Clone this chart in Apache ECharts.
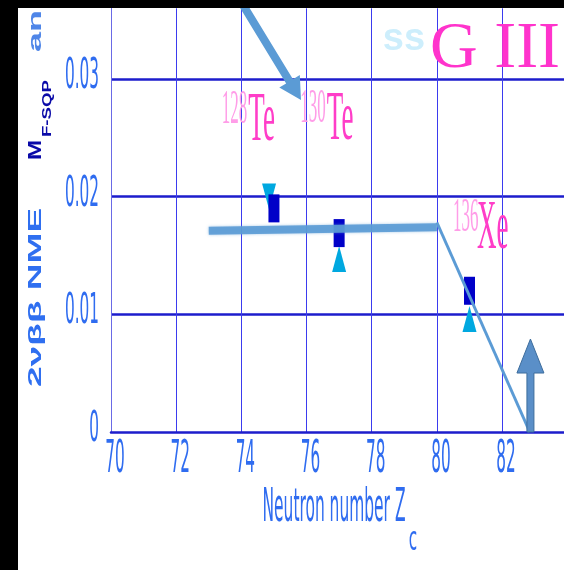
<!DOCTYPE html>
<html>
<head>
<meta charset="utf-8">
<script src="https://cdn.jsdelivr.net/npm/echarts@6/dist/echarts.min.js"></script>
<style>
html, body { margin: 0; padding: 0; background: #fff; }
#chart { width: 564px; height: 570px; }
</style>
</head>
<body>
<div id="chart"></div>
<script>
// Axis ticks
const xTicks = [70, 72, 74, 76, 78, 80, 82];
const xTickLabels = ['70', '72', '74', '76', '78', '80', '82'];
const yTicks = [0, 0.01, 0.02, 0.03];
const yTickLabels = ['0', '0.01', '0.02', '0.03'];

// NME values per nucleus (dark squares)
const nmeMeasured = [[75, 0.0190], [77, 0.0169], [81, 0.0120]];
// Calculated values (triangles)
const nmeCalcDown = [[74.85, 0.0200]];
const nmeCalcUp = [[77, 0.0147], [81, 0.0096]];
// Plateau trend and the drop toward the shell closure
const plateauLine = [[73, 0.0171], [80, 0.0174]];
const dropLine = [[80, 0.0178], [82.85, 0]];
// Arrows as [xTail, yTail, xTip, yTip]
const pointerArrow = [[73.96, 0.0367, 75.83, 0.0282]];
const shellArrow = [[82.87, 0, 82.87, 0.0079]];
// Nucleus labels (mass number, element, anchor in data units)
const nucleusMass = ['128', '130', '136'];
const nucleusSym = ['Te', 'Te', 'Xe'];
const nucleusAt = [[74.62, 0.0264], [77.03, 0.0265], [81.71, 0.0172]];

const NARROW = '"Liberation Sans Narrow", "DejaVu Sans Condensed", "Liberation Sans", sans-serif';
const SERIF = '"Liberation Serif", "DejaVu Serif", serif';
const SANS = '"Liberation Sans", Arial, sans-serif';

function arrowRenderer(o) {
  return function (params, api) {
    const p1 = api.coord([api.value(0), api.value(1)]);
    const p2 = api.coord([api.value(2), api.value(3)]);
    const dx = p2[0] - p1[0], dy = p2[1] - p1[1];
    const len = Math.hypot(dx, dy);
    const ux = dx / len, uy = dy / len;
    const nx = -uy, ny = ux;
    const w = o.shaft / 2, h = o.headW / 2;
    const bx = p2[0] - ux * o.headL, by = p2[1] - uy * o.headL;
    const pts = [
      [p1[0] + nx * w, p1[1] + ny * w],
      [bx + nx * w, by + ny * w],
      [bx + nx * h, by + ny * h],
      [p2[0], p2[1]],
      [bx - nx * h, by - ny * h],
      [bx - nx * w, by - ny * w],
      [p1[0] - nx * w, p1[1] - ny * w]
    ];
    return {
      type: 'polygon',
      shape: { points: pts },
      style: { fill: o.fill, stroke: o.stroke || null, lineWidth: o.lw || 0 }
    };
  };
}

const chart = echarts.init(document.getElementById('chart'), null, { renderer: 'canvas' });

const option = {
  backgroundColor: '#ffffff',
  animation: false,
  grid: { left: 111, right: 0, top: 8.3, bottom: 138 },
  xAxis: {
    type: 'value', min: 70, max: 83.9, interval: 2,
    axisLabel: { show: false },
    axisTick: { show: false },
    axisLine: { show: true, lineStyle: { color: '#1d1dcc', width: 2.5 } },
    splitLine: { show: true, showMinLine: false, showMaxLine: false, lineStyle: { color: '#3b3bef', width: 1 } }
  },
  yAxis: {
    type: 'value', min: 0, max: 0.036, interval: 0.01,
    axisLabel: { show: false },
    axisTick: { show: false },
    axisLine: { show: true, lineStyle: { color: '#6a6ae6', width: 1 } },
    splitLine: { show: true, showMinLine: false, showMaxLine: false, lineStyle: { color: '#1d1dcc', width: 2.5 } }
  },
  series: [
    {
      type: 'scatter', data: nmeCalcDown, z: 2,
      symbol: 'path://M0,0L2,0L1,2Z', symbolSize: [14, 26],
      itemStyle: { color: '#00a8e0', opacity: 1 }
    },
    {
      type: 'scatter', data: nmeCalcUp, z: 2,
      symbol: 'triangle', symbolSize: [14, 26],
      itemStyle: { color: '#00a8e0', opacity: 1 }
    },
    {
      type: 'scatter', data: nmeMeasured, z: 3,
      symbol: 'rect', symbolSize: [11, 28],
      itemStyle: { color: '#0000c8', opacity: 1 }
    },
    {
      type: 'line', data: plateauLine, z: 4, symbol: 'none',
      lineStyle: { color: '#5b9bd5', width: 8, opacity: 0.9, shadowBlur: 3, shadowColor: 'rgba(91,155,213,0.6)' }
    },
    {
      type: 'line', data: dropLine, z: 4, symbol: 'none',
      lineStyle: { color: '#5b9bd5', width: 3 }
    },
    {
      type: 'custom', data: pointerArrow, z: 5, clip: false,
      encode: { x: [0, 2], y: [1, 3] },
      renderItem: arrowRenderer({ shaft: 8, headW: 24, headL: 22, fill: '#5b9bd5' })
    },
    {
      type: 'custom', data: shellArrow, z: 5, clip: false,
      encode: { x: [0, 2], y: [1, 3] },
      renderItem: arrowRenderer({ shaft: 7, headW: 27, headL: 34, fill: '#5a8fc8', stroke: '#3d6d9d', lw: 1 })
    }
  ]
};
chart.setOption(option);

// Text overlays drawn from the axis scale
const px = (x, y) => chart.convertToPixel({ gridIndex: 0 }, [x, y]);
const g = [];

xTicks.forEach((t, i) => {
  const p = px(t, 0);
  g.push({
    type: 'text', x: p[0] + 4, y: 461, scaleY: 2.6, z: 50,
    style: { text: xTickLabels[i], font: '17px ' + NARROW, fill: '#2f6cf0', align: 'center', verticalAlign: 'middle' }
  });
});
yTicks.forEach((t, i) => {
  const p = px(70, t);
  g.push({
    type: 'text', x: 99, y: p[1] - 2, scaleY: 2.5, z: 50,
    style: { text: yTickLabels[i], font: '17px ' + NARROW, fill: '#2f6cf0', align: 'right', verticalAlign: 'middle' }
  });
});

// x axis title with subscript
g.push({
  type: 'text', x: 334, y: 509.5, scaleY: 2.68, z: 50,
  style: { text: 'Neutron number Z', font: '17.2px ' + NARROW, fill: '#2f6cf0', align: 'center', verticalAlign: 'middle' }
});
g.push({
  type: 'text', x: 413, y: 541.5, scaleY: 2.0, z: 50,
  style: { text: 'c', font: '17px ' + NARROW, fill: '#2f6cf0', align: 'center', verticalAlign: 'middle' }
});

// y axis title, reading upward
g.push({
  type: 'text', x: 36, y: 387, rotation: Math.PI / 2, scaleX: 2.06, z: 50,
  style: { text: '2νββ NME', font: 'bold 18px ' + SANS, fill: '#2f6ff0', align: 'left', verticalAlign: 'middle' }
});
g.push({
  type: 'text', x: 36, y: 160, rotation: Math.PI / 2, scaleX: 1.35, z: 50,
  style: { text: 'M', font: 'bold 18px ' + SANS, fill: '#0a0aa8', align: 'left', verticalAlign: 'middle' }
});
g.push({
  type: 'text', x: 48, y: 137, rotation: Math.PI / 2, scaleX: 1.55, z: 50,
  style: { text: 'F-SQP', font: 'bold 12px ' + SANS, fill: '#0a0aa8', align: 'left', verticalAlign: 'middle' }
});
g.push({
  type: 'text', x: 36, y: 52, rotation: Math.PI / 2, scaleX: 2.0, z: 50,
  style: { text: 'an', font: 'bold 18px ' + SANS, fill: '#4f86e8', align: 'left', verticalAlign: 'middle' }
});

// Nucleus labels
nucleusAt.forEach((a, i) => {
  const p = px(a[0], a[1]);
  g.push({
    type: 'text', x: p[0], y: p[1], scaleY: 2.6, z: 40,
    style: { text: nucleusSym[i], font: '27px ' + SERIF, fill: '#ff3dc8', align: 'center', verticalAlign: 'middle' }
  });
  g.push({
    type: 'text', x: p[0] - 27, y: p[1] - 11, scaleY: 2.8, z: 40,
    style: { text: nucleusMass[i], font: '17px ' + SERIF, fill: '#ff9de8', align: 'center', verticalAlign: 'middle' }
  });
});

// Panel heading
g.push({
  type: 'text', x: 404, y: 40, z: 40,
  style: { text: 'ss', font: 'bold 38px ' + SANS, fill: '#cdeefc', align: 'center', verticalAlign: 'middle' }
});
g.push({
  type: 'text', x: 430, y: 49.5, z: 40,
  style: { text: 'G III', font: '66px ' + SERIF, fill: '#ff33cc', align: 'left', verticalAlign: 'middle' }
});

// Dark frame on the left and top edges
g.push({ type: 'rect', z: 100, shape: { x: 0, y: 0, width: 18, height: 570 }, style: { fill: '#000' } });
g.push({ type: 'rect', z: 100, shape: { x: 0, y: 0, width: 564, height: 8 }, style: { fill: '#000' } });

chart.setOption({ graphic: { elements: g } });
</script>
</body>
</html>
